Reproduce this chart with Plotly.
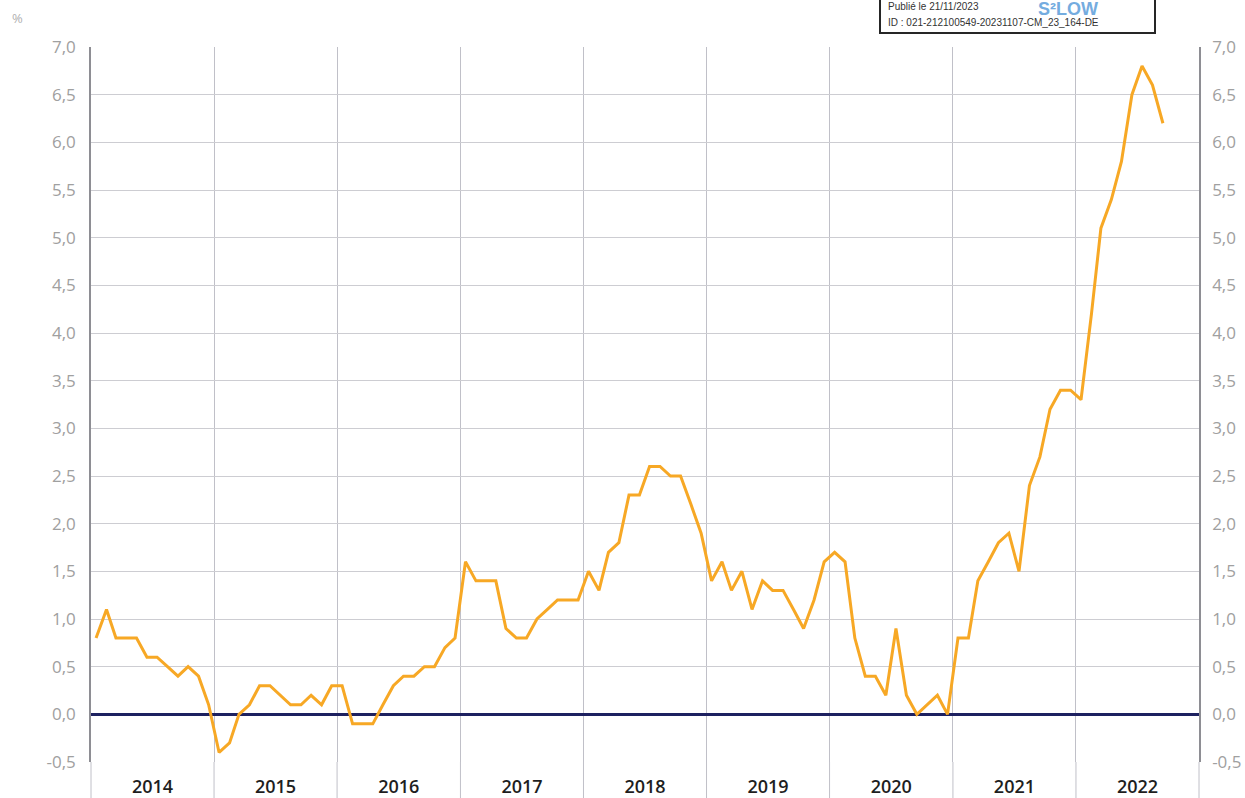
import plotly.graph_objects as go

# ---------------- data ----------------
years = [2014, 2015, 2016, 2017, 2018, 2019, 2020, 2021, 2022]
year_labels = ["2014", "2015", "2016", "2017", "2018", "2019", "2020", "2021", "2022"]

infl_2014 = [0.8, 1.1, 0.8, 0.8, 0.8, 0.6, 0.6, 0.5, 0.4, 0.5, 0.4, 0.1]
infl_2015 = [-0.4, -0.3, 0.0, 0.1, 0.3, 0.3, 0.2, 0.1, 0.1, 0.2, 0.1, 0.3]
infl_2016 = [0.3, -0.1, -0.1, -0.1, 0.1, 0.3, 0.4, 0.4, 0.5, 0.5, 0.7, 0.8]
infl_2017 = [1.6, 1.4, 1.4, 1.4, 0.9, 0.8, 0.8, 1.0, 1.1, 1.2, 1.2, 1.2]
infl_2018 = [1.5, 1.3, 1.7, 1.8, 2.3, 2.3, 2.6, 2.6, 2.5, 2.5, 2.2, 1.9]
infl_2019 = [1.4, 1.6, 1.3, 1.5, 1.1, 1.4, 1.3, 1.3, 1.1, 0.9, 1.2, 1.6]
infl_2020 = [1.7, 1.6, 0.8, 0.4, 0.4, 0.2, 0.9, 0.2, 0.0, 0.1, 0.2, 0.0]
infl_2021 = [0.8, 0.8, 1.4, 1.6, 1.8, 1.9, 1.5, 2.4, 2.7, 3.2, 3.4, 3.4]
infl_2022 = [3.3, 4.2, 5.1, 5.4, 5.8, 6.5, 6.8, 6.6, 6.2]

series_by_year = [infl_2014, infl_2015, infl_2016, infl_2017, infl_2018,
                  infl_2019, infl_2020, infl_2021, infl_2022]

y_range = [-0.5, 7.0]
y_tick_values = [-0.5, 0.0, 0.5, 1.0, 1.5, 2.0, 2.5, 3.0, 3.5, 4.0, 4.5, 5.0, 5.5, 6.0, 6.5, 7.0]
y_tick_labels = [f"{v:.1f}".replace(".", ",") for v in y_tick_values]

stamp_line1 = "Publié le 21/11/2023"
stamp_line2 = "ID : 021-212100549-20231107-CM_23_164-DE"
stamp_logo = "S²LOW"
unit_label = "%"

# ---------------- build monthly series ----------------
dates, values = [], []
for yr, vals in zip(years, series_by_year):
    for i, v in enumerate(vals):
        dates.append(f"{yr}-{i + 1:02d}-16")
        values.append(v)

# ---------------- layout geometry ----------------
W, H = 1245, 798
L, R, T, B = 91, 46, 47, 36
PW, PH = W - L - R, H - T - B


def px_x(px):
    return (px - L) / PW


def px_y(py):
    return (H - B - py) / PH


LINE_COLOR = "#F7A825"
GRID_H = "#cdcdd2"
GRID_V = "#c0c0c8"
AXIS_LINE = "#8e8e94"
TICK_GREY = "#a0a0a0"

fig = go.Figure()
fig.add_trace(go.Scatter(
    x=dates, y=values, mode="lines",
    line=dict(color=LINE_COLOR, width=3),
    showlegend=False,
))
# invisible companion so the right-hand axis is rendered
fig.add_trace(go.Scatter(
    x=dates, y=values, yaxis="y2", mode="lines",
    line=dict(color="rgba(0,0,0,0)", width=0),
    showlegend=False, hoverinfo="skip",
))

start = f"{years[0]}-01-01"
end = f"{years[-1] + 1}-01-01"

shapes = []
# year separators continuing below the plot area
for k, yr in enumerate(years + [years[-1] + 1]):
    if k == 0 or k == len(years):
        shapes.append(dict(type="line", xref="paper", yref="paper",
                           x0=0 if k == 0 else 1, x1=0 if k == 0 else 1,
                           y0=px_y(H + 2), y1=0,
                           line=dict(color=GRID_V, width=1)))
    else:
        shapes.append(dict(type="line", xref="x", yref="paper",
                           x0=f"{yr}-01-01", x1=f"{yr}-01-01",
                           y0=px_y(H + 2), y1=0,
                           line=dict(color=GRID_V, width=1)))

# publication stamp box (top right)
shapes.append(dict(type="rect", xref="paper", yref="paper",
                   x0=px_x(880), x1=px_x(1155), y0=px_y(33), y1=px_y(-6),
                   line=dict(color="#262626", width=2), fillcolor="white",
                   layer="above"))

annotations = [
    dict(text=unit_label, xref="paper", yref="paper", x=px_x(10), y=px_y(18),
         xanchor="left", yanchor="middle", showarrow=False,
         font=dict(family="Open Sans", size=13, color="#b0b0b0")),
    dict(text=stamp_line1, xref="paper", yref="paper", x=px_x(886), y=px_y(7),
         xanchor="left", yanchor="middle", showarrow=False,
         font=dict(family="Liberation Sans", size=10, color="#333333")),
    dict(text=stamp_line2, xref="paper", yref="paper", x=px_x(886), y=px_y(23),
         xanchor="left", yanchor="middle", showarrow=False,
         font=dict(family="Liberation Sans", size=10, color="#333333")),
    dict(text=f"<b>{stamp_logo}</b>", xref="paper", yref="paper", x=px_x(1036), y=px_y(9),
         xanchor="left", yanchor="middle", showarrow=False,
         font=dict(family="Liberation Sans", size=18, color="#74acdf")),
]

fig.update_layout(
    width=W, height=H,
    margin=dict(l=L, r=R, t=T, b=B, pad=0),
    paper_bgcolor="white", plot_bgcolor="white",
    showlegend=False,
    shapes=shapes,
    annotations=annotations,
    xaxis=dict(
        type="date", range=[start, end],
        tick0=start, dtick="M12", tickformat="%Y", ticklabelmode="period",
        showgrid=True, gridcolor=GRID_V, gridwidth=1,
        zeroline=False, showline=False, ticks="",
        tickfont=dict(family="Open Sans", size=18, color="#1e1e1e", weight=600),
        ticklabelstandoff=12, automargin=False,
    ),
    yaxis=dict(
        range=y_range, tickmode="array",
        tickvals=y_tick_values, ticktext=y_tick_labels,
        showgrid=True, gridcolor=GRID_H, gridwidth=1.3,
        zeroline=True, zerolinecolor="#1d2160", zerolinewidth=2.5,
        showline=True, linecolor=AXIS_LINE, linewidth=1.5,
        ticks="", ticklabelstandoff=10,
        tickfont=dict(family="Open Sans", size=17, color=TICK_GREY),
        automargin=False,
    ),
    yaxis2=dict(
        overlaying="y", side="right",
        range=y_range, tickmode="array",
        tickvals=y_tick_values, ticktext=y_tick_labels,
        showgrid=False, zeroline=False,
        showline=True, linecolor=AXIS_LINE, linewidth=1.5,
        ticks="", ticklabelstandoff=8,
        tickfont=dict(family="Open Sans", size=17, color=TICK_GREY),
        automargin=False,
    ),
)

fig.write_html("out.html", config={"displayModeBar": False},
               post_script="document.body.style.margin='0';")
